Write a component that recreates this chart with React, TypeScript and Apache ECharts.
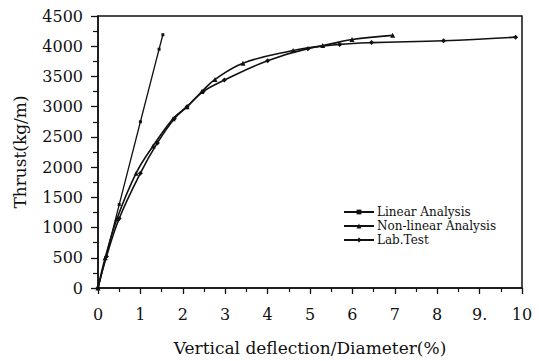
import React, { useEffect, useRef } from "react";
import * as echarts from "echarts";

const xTicks = [0, 1, 2, 3, 4, 5, 6, 7, 8, 9, 10];
const xTickLabels = ["0", "1", "2", "3", "4", "5", "6", "7", "8", "9.", "10"];
const yTicks = [0, 500, 1000, 1500, 2000, 2500, 3000, 3500, 4000, 4500];

const seriesNames = ["Linear Analysis", "Non-linear Analysis", "Lab.Test"];

const linearData: number[][] = [
  [0, 0],
  [0.5, 1380],
  [1.0, 2750],
  [1.44, 3950],
  [1.53, 4190],
];

const nonLinearData: number[][] = [
  [0, 0],
  [0.17, 500],
  [0.45, 1150],
  [0.9, 1900],
  [1.3, 2350],
  [1.77, 2800],
  [2.1, 3000],
  [2.45, 3250],
  [2.76, 3450],
  [3.42, 3720],
  [4.6, 3930],
  [5.3, 4010],
  [5.99, 4110],
  [6.95, 4180],
];

const labTestData: number[][] = [
  [0, 0],
  [0.2, 520],
  [0.5, 1150],
  [1.0, 1900],
  [1.4, 2400],
  [1.8, 2800],
  [2.1, 3000],
  [2.48, 3250],
  [2.98, 3440],
  [4.0, 3760],
  [4.95, 3960],
  [5.7, 4030],
  [6.45, 4060],
  [8.15, 4090],
  [9.85, 4150],
];

const FONT = "DejaVu Serif";

export default function App() {
  const ref = useRef<HTMLDivElement>(null);
  useEffect(() => {
    if (!ref.current) return;
    const chart = echarts.init(ref.current, null, { renderer: "svg" });
    chart.setOption({
      animation: false,
      backgroundColor: "#fff",
      grid: {
        left: 98,
        right: 17,
        top: 16,
        bottom: 69,
        show: true,
        borderColor: "#111",
        borderWidth: 1.5,
      },
      legend: {
        orient: "vertical",
        left: 343,
        top: 206,
        itemWidth: 30,
        itemHeight: 6,
        itemGap: 2,
        padding: 0,
        data: seriesNames,
        textStyle: { fontFamily: FONT, fontSize: 12, color: "#111", padding: [0, 0, 0, -2] },
      },
      xAxis: {
        type: "value",
        min: 0,
        max: 10,
        interval: 1,
        axisLine: { show: true, lineStyle: { color: "#111", width: 1.5 } },
        axisTick: { show: true, inside: false, length: 6, lineStyle: { color: "#111", width: 1.3 } },
        minorTick: { show: true, splitNumber: 2, length: 4, lineStyle: { color: "#111", width: 1.2 } },
        splitLine: { show: false },
        axisLabel: {
          margin: 18,
          fontFamily: FONT,
          fontSize: 16,
          color: "#111",
          formatter: (v: number) => {
            const i = xTicks.indexOf(v);
            return i >= 0 ? xTickLabels[i] : "";
          },
        },
        name: "Vertical deflection/Diameter(%)",
        nameLocation: "middle",
        nameGap: 51,
        nameTextStyle: { fontFamily: FONT, fontSize: 17, color: "#111" },
      },
      yAxis: {
        type: "value",
        min: 0,
        max: 4500,
        interval: 500,
        axisLine: { show: true, lineStyle: { color: "#111", width: 1.5 } },
        axisTick: { show: true, inside: false, length: 7, lineStyle: { color: "#111", width: 1.3 } },
        minorTick: { show: true, splitNumber: 2, length: 5, lineStyle: { color: "#111", width: 1.2 } },
        splitLine: { show: false },
        axisLabel: {
          margin: 15,
          fontFamily: FONT,
          fontSize: 16,
          color: "#111",
          formatter: (v: number) => (yTicks.indexOf(v) >= 0 ? String(v) : ""),
        },
        name: "Thrust(kg/m)",
        nameLocation: "middle",
        nameGap: 70,
        nameTextStyle: { fontFamily: FONT, fontSize: 17, color: "#111" },
      },
      series: [
        {
          name: seriesNames[0],
          type: "line",
          data: linearData,
          symbol: "rect",
          symbolSize: 3,
          showSymbol: true,
          lineStyle: { color: "#111", width: 1.3 },
          itemStyle: { color: "#111" },
        },
        {
          name: seriesNames[1],
          type: "line",
          data: nonLinearData,
          smooth: 0.4,
          symbol: "triangle",
          symbolSize: 5,
          lineStyle: { color: "#111", width: 1.6 },
          itemStyle: { color: "#111" },
        },
        {
          name: seriesNames[2],
          type: "line",
          data: labTestData,
          smooth: 0.4,
          symbol: "diamond",
          symbolSize: 5,
          lineStyle: { color: "#111", width: 1.6 },
          itemStyle: { color: "#111" },
        },
      ],
    });
    return () => chart.dispose();
  }, []);
  return <div ref={ref} style={{ width: 539, height: 361, position: "absolute", left: 0, top: 0 }} />;
}
